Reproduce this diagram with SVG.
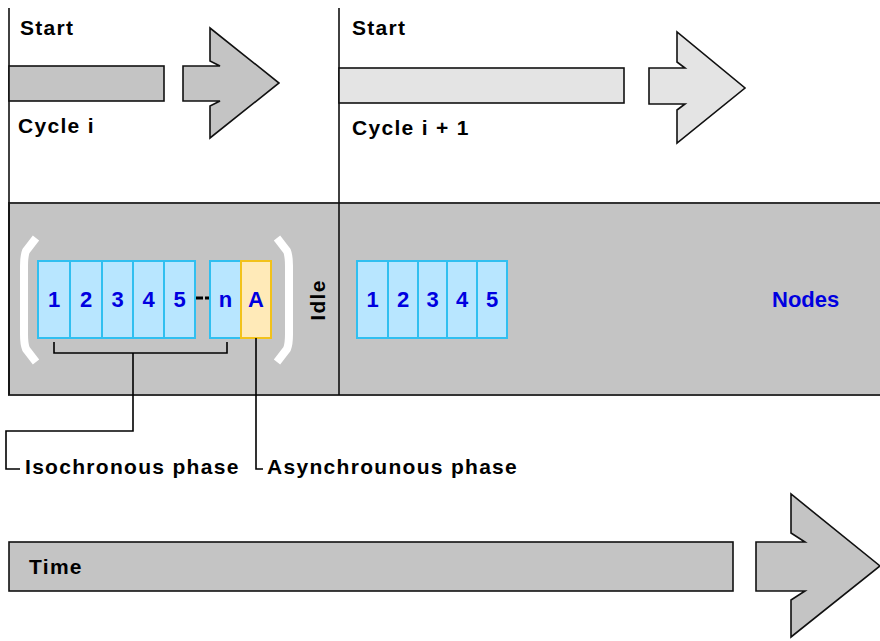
<svg xmlns="http://www.w3.org/2000/svg" width="880" height="641" viewBox="0 0 880 641">
<style>
.lbl{font-family:"Liberation Sans",Arial,sans-serif;font-weight:bold;font-size:21px;letter-spacing:1.3px;fill:#000}
.num{font-family:"Liberation Sans",Arial,sans-serif;font-weight:bold;font-size:22px;fill:#0000e0;text-anchor:middle}
.cell{fill:#b8e6ff;stroke:#30bff0;stroke-width:2}
.acell{fill:#ffeab8;stroke:#f2c21a;stroke-width:2}
.shape{stroke:#111;stroke-width:1.6;stroke-linejoin:miter}
.g1{fill:#c4c4c4}
.g2{fill:#e4e4e4}
.conn{fill:none;stroke:#000;stroke-width:1.6}
.brk{fill:none;stroke:#fff;stroke-width:8;stroke-linejoin:round}
</style>
<rect width="880" height="641" fill="#fff"/>
<g id="band">
<rect x="9" y="203" width="880" height="192" fill="#c4c4c4" stroke="#333" stroke-width="2"/>
</g>
<g id="cycle-lines">
<line x1="9" y1="8" x2="9" y2="395" stroke="#111" stroke-width="1.6"/>
<line x1="339" y1="8" x2="339" y2="395" stroke="#111" stroke-width="1.6"/>
</g>
<g id="cycle-i">
<text class="lbl" x="20" y="35">Start</text>
<rect class="shape g1" x="9" y="66" width="155" height="35"/>
<polygon class="shape g1" points="183,66 220,66 210,61 210,28 279,83 210,138 210,106 220,101 183,101"/>
<text class="lbl" x="18" y="133">Cycle i</text>
</g>
<g id="cycle-i1">
<text class="lbl" x="352" y="35">Start</text>
<rect class="shape g2" x="339" y="68" width="285" height="35"/>
<polygon class="shape g2" points="649,68 685,68 677,62 677,32 745,88 677,143 677,110 685,104 649,104"/>
<text class="lbl" x="352" y="135">Cycle i + 1</text>
</g>
<g id="brackets">
<path class="brk" d="M36 238 L26 251 Q24 256 24 266 L24 334 Q24 344 26 349 L36 362"/>
<path class="brk" d="M277 238 L287 251 Q289 256 289 266 L289 334 Q289 344 287 349 L277 362"/>
</g>
<g id="nodes-i">
<rect class="cell" x="38" y="261" width="32" height="77"/>
<rect class="cell" x="70" y="261" width="32" height="77"/>
<rect class="cell" x="102" y="261" width="31" height="77"/>
<rect class="cell" x="133" y="261" width="31" height="77"/>
<rect class="cell" x="164" y="261" width="31" height="77"/>
<rect class="cell" x="210" y="261" width="31" height="77"/>
<rect class="acell" x="241" y="261" width="30" height="77"/>
<text class="num" x="54" y="307">1</text>
<text class="num" x="86" y="307">2</text>
<text class="num" x="117.5" y="307">3</text>
<text class="num" x="148.5" y="307">4</text>
<text class="num" x="179.5" y="307">5</text>
<line x1="196" y1="298" x2="209" y2="298" stroke="#000" stroke-width="3" stroke-dasharray="7,2"/>
<text class="num" x="225.5" y="307">n</text>
<text class="num" x="256" y="307">A</text>
</g>
<g id="idle">
<text class="lbl" font-size="20" letter-spacing="0.5" text-anchor="middle" transform="translate(325,300) rotate(-90)">Idle</text>
</g>
<g id="nodes-i1">
<rect class="cell" x="357" y="261" width="31" height="77"/>
<rect class="cell" x="388" y="261" width="30" height="77"/>
<rect class="cell" x="418" y="261" width="29" height="77"/>
<rect class="cell" x="447" y="261" width="30" height="77"/>
<rect class="cell" x="477" y="261" width="30" height="77"/>
<text class="num" x="372.5" y="307">1</text>
<text class="num" x="403" y="307">2</text>
<text class="num" x="432.5" y="307">3</text>
<text class="num" x="462" y="307">4</text>
<text class="num" x="492" y="307">5</text>
</g>
<g id="nodes-label">
<text class="num" style="text-anchor:start" x="772" y="307">Nodes</text>
</g>
<g id="connectors">
<path class="conn" d="M54 342 V353 H227 V342"/>
<path class="conn" d="M133 353 V431 H6 V469 H20"/>
<path class="conn" d="M256 338 V469 H263"/>
</g>
<g id="phase-labels">
<text class="lbl" x="25" y="474">Isochronous phase</text>
<text class="lbl" x="267" y="474">Asynchrounous phase</text>
</g>
<g id="time">
<rect class="shape g1" x="9" y="542" width="724" height="49" stroke-width="2"/>
<polygon class="shape g1" points="756,542 805,542 791,533 791,494 880,566 791,637 791,600 805,591 756,591"/>
<text class="lbl" x="29" y="574">Time</text>
</g>
</svg>
